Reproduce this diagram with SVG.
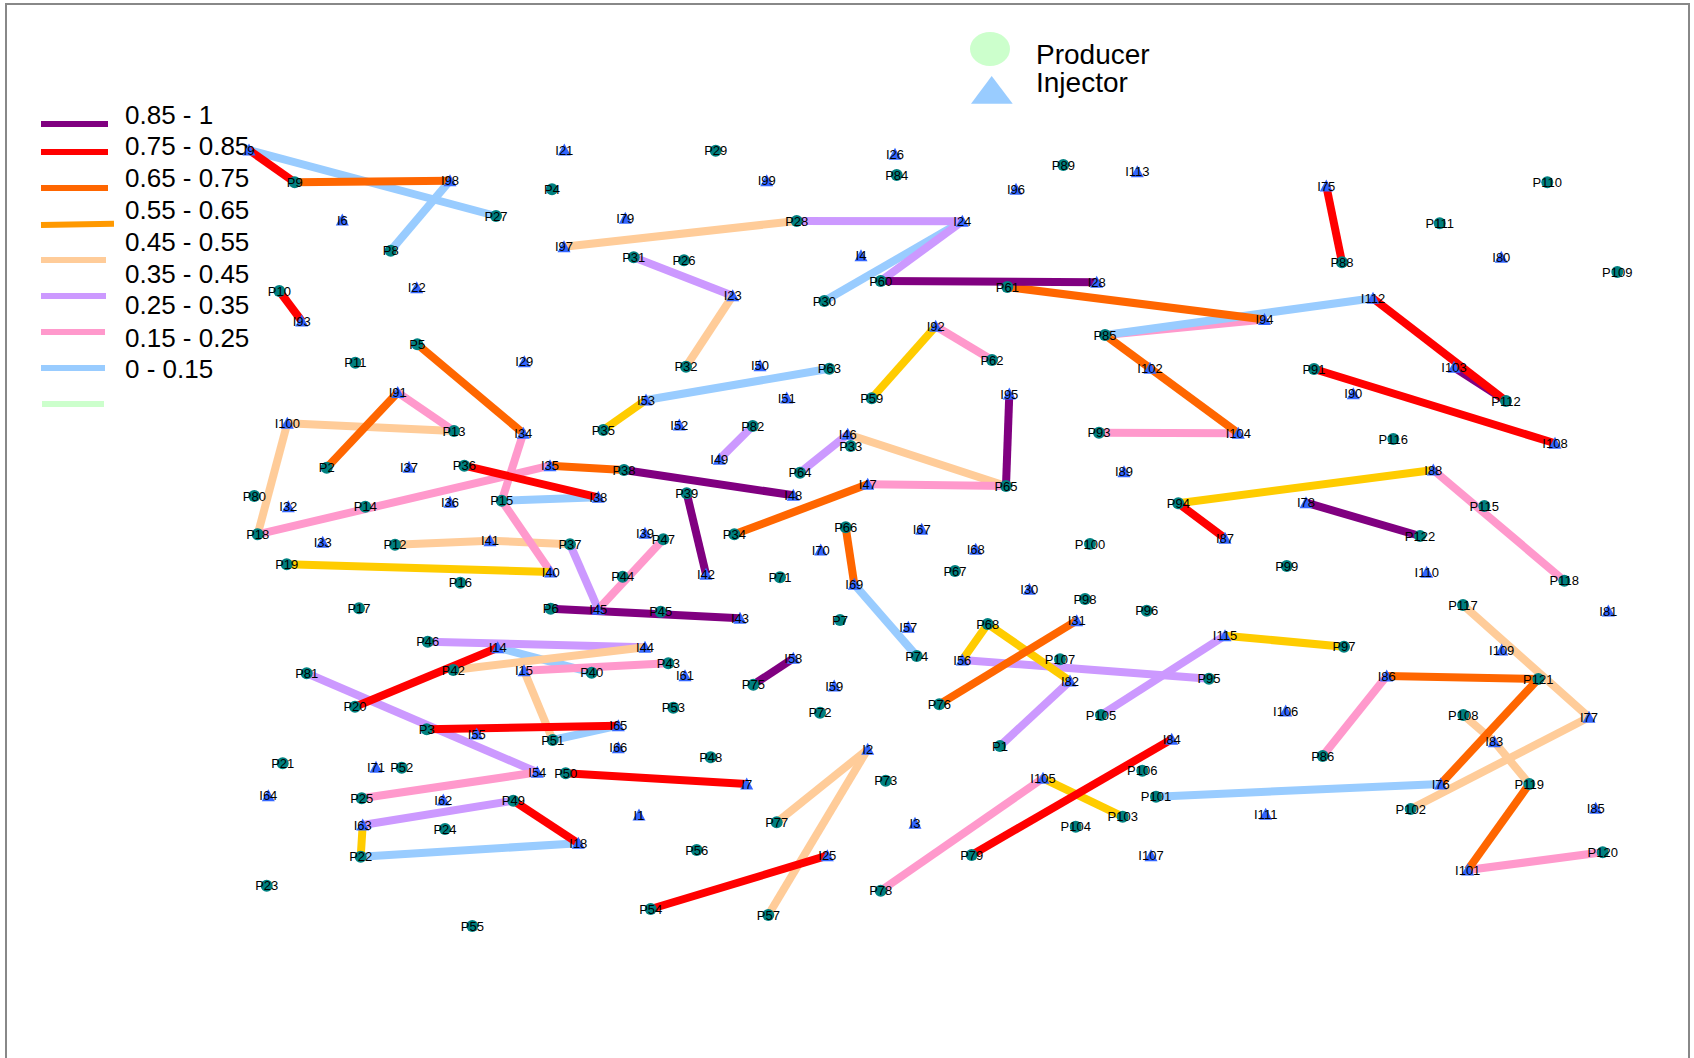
<svg xmlns="http://www.w3.org/2000/svg" xmlns:xlink="http://www.w3.org/1999/xlink" width="1694" height="1058" viewBox="0 0 1694 1058">
<style>
text{font-family:"Liberation Sans",Arial,sans-serif;fill:#000}
.n text{font-size:13px;text-anchor:middle}
.lg{font-size:26px}
.lg2{font-size:28px}
line{stroke-width:8;stroke-linecap:butt}
.leg line{stroke-width:6}
.k1{stroke:#800080}.k2{stroke:#FF0000}.k3{stroke:#FF6600}.k4{stroke:#FFCC00}.k4l{stroke:#FF9900}
.k5{stroke:#FFCC99}.k6{stroke:#CC99FF}.k7{stroke:#FF99CC}.k8{stroke:#99CCFF}.k9{stroke:#CCFFCC}
</style>
<defs>
<circle id="pc" r="6" fill="#008080"/>
<polygon id="it" points="0,-6.5 6.5,5.5 -6.5,5.5" fill="#3366FF"/>
</defs>
<rect x="6" y="4" width="1683" height="1080" fill="#fff" stroke="#888" stroke-width="2"/>
<g id="legend" class="leg">
<line class="k1" x1="41" y1="124" x2="108" y2="124"/>
<line class="k2" x1="41" y1="152" x2="108" y2="152"/>
<line class="k3" x1="41" y1="188" x2="108" y2="188"/>
<line class="k4l" x1="41" y1="225" x2="114" y2="223.7"/>
<line class="k5" x1="41" y1="260" x2="106" y2="260"/>
<line class="k6" x1="41" y1="296" x2="106" y2="296"/>
<line class="k7" x1="41" y1="332" x2="105" y2="332"/>
<line class="k8" x1="41" y1="368" x2="105" y2="368"/>
<line class="k9" x1="42" y1="404" x2="104" y2="404"/>
<text class="lg" x="125" y="124">0.85 - 1</text>
<text class="lg" x="125" y="155">0.75 - 0.85</text>
<text class="lg" x="125" y="187">0.65 - 0.75</text>
<text class="lg" x="125" y="219">0.55 - 0.65</text>
<text class="lg" x="125" y="251">0.45 - 0.55</text>
<text class="lg" x="125" y="283">0.35 - 0.45</text>
<text class="lg" x="125" y="314">0.25 - 0.35</text>
<text class="lg" x="125" y="347">0.15 - 0.25</text>
<text class="lg" x="125" y="378">0 - 0.15</text>
<ellipse cx="990" cy="49" rx="20" ry="17" fill="#CCFFCC"/>
<polygon points="991.7,76 971,103.7 1012.7,103.7" fill="#99CCFF"/>
<text class="lg2" x="1036" y="64">Producer</text>
<text class="lg2" x="1036" y="92">Injector</text>
</g>
<g id="connectors">
<line class="k7" x1="1105" y1="335" x2="1264.5" y2="319.5"/>
<line class="k8" x1="249" y1="150" x2="496" y2="216"/>
<line class="k8" x1="450" y1="180.7" x2="390.7" y2="250.7"/>
<line class="k8" x1="962.3" y1="221.3" x2="824.3" y2="301"/>
<line class="k8" x1="646" y1="400" x2="829.3" y2="368.7"/>
<line class="k8" x1="1105" y1="335" x2="1373" y2="298.3"/>
<line class="k8" x1="501.7" y1="500.7" x2="598.3" y2="497.3"/>
<line class="k8" x1="854.3" y1="584.3" x2="916.7" y2="656"/>
<line class="k8" x1="497.7" y1="647.7" x2="591.7" y2="672.7"/>
<line class="k8" x1="552.7" y1="740" x2="618.3" y2="725.7"/>
<line class="k8" x1="360.7" y1="856.7" x2="578.3" y2="843.3"/>
<line class="k8" x1="1156" y1="796.7" x2="1440.7" y2="784"/>
<line class="k6" x1="796.7" y1="221" x2="962.3" y2="221.3"/>
<line class="k6" x1="962.3" y1="221.3" x2="880.7" y2="281"/>
<line class="k6" x1="633.7" y1="257.3" x2="732.7" y2="295.7"/>
<line class="k6" x1="752.7" y1="426" x2="719.3" y2="459.3"/>
<line class="k6" x1="847.7" y1="434.3" x2="800" y2="472.7"/>
<line class="k6" x1="570" y1="544.3" x2="598.3" y2="609.3"/>
<line class="k6" x1="427.7" y1="641.7" x2="645" y2="647.3"/>
<line class="k6" x1="306.7" y1="673.3" x2="537.3" y2="772.3"/>
<line class="k6" x1="962.3" y1="660" x2="1209" y2="678.7"/>
<line class="k6" x1="1070" y1="681" x2="1000" y2="746"/>
<line class="k6" x1="1225" y1="635.7" x2="1101" y2="715"/>
<line class="k6" x1="362.7" y1="825" x2="513.3" y2="800.7"/>
<line class="k5" x1="564" y1="246.7" x2="796.7" y2="221"/>
<line class="k5" x1="732.7" y1="295.7" x2="686" y2="366.7"/>
<line class="k5" x1="287.3" y1="423.3" x2="454" y2="431"/>
<line class="k5" x1="287.3" y1="423.3" x2="257.7" y2="534.3"/>
<line class="k5" x1="395" y1="544.7" x2="490" y2="540.7"/>
<line class="k5" x1="490" y1="540.7" x2="570" y2="544.3"/>
<line class="k5" x1="847.7" y1="434.3" x2="1006" y2="486"/>
<line class="k5" x1="453.3" y1="670" x2="645" y2="647.3"/>
<line class="k5" x1="524" y1="670.7" x2="552.7" y2="740"/>
<line class="k5" x1="867.7" y1="749.3" x2="776.7" y2="822.3"/>
<line class="k5" x1="867.7" y1="749.3" x2="768.3" y2="915"/>
<line class="k5" x1="1463" y1="605" x2="1589" y2="717.3"/>
<line class="k5" x1="1589" y1="717.3" x2="1410.7" y2="809"/>
<line class="k5" x1="1494.3" y1="741.7" x2="1463.3" y2="715"/>
<line class="k5" x1="1494.3" y1="741.7" x2="1529.3" y2="784"/>
<line class="k7" x1="935.7" y1="326.3" x2="992" y2="360"/>
<line class="k7" x1="397.7" y1="392.5" x2="454" y2="431"/>
<line class="k7" x1="550" y1="465.7" x2="257.7" y2="534.3"/>
<line class="k7" x1="523.3" y1="433.3" x2="501.7" y2="500.7"/>
<line class="k7" x1="501.7" y1="500.7" x2="550.7" y2="572"/>
<line class="k7" x1="598.3" y1="609.3" x2="663.3" y2="539.3"/>
<line class="k7" x1="1099" y1="432.7" x2="1238.3" y2="433.3"/>
<line class="k7" x1="867.7" y1="484.3" x2="1006" y2="486"/>
<line class="k7" x1="1433.3" y1="470" x2="1564.3" y2="580.7"/>
<line class="k7" x1="524" y1="670.7" x2="668.3" y2="663.3"/>
<line class="k7" x1="361.7" y1="798.3" x2="537.3" y2="772.3"/>
<line class="k7" x1="1043" y1="778.3" x2="880.7" y2="890.7"/>
<line class="k7" x1="1386.7" y1="676" x2="1322.7" y2="756"/>
<line class="k7" x1="1467.7" y1="870" x2="1602.7" y2="852.3"/>
<line class="k4" x1="646" y1="400" x2="603.3" y2="430"/>
<line class="k4" x1="935.7" y1="326.3" x2="871.7" y2="398.3"/>
<line class="k4" x1="286.7" y1="564.3" x2="550.7" y2="572"/>
<line class="k4" x1="1178.3" y1="503.3" x2="1433.3" y2="470"/>
<line class="k4" x1="987.7" y1="624" x2="962.3" y2="660"/>
<line class="k4" x1="987.7" y1="624" x2="1070" y2="681"/>
<line class="k4" x1="1225" y1="635.7" x2="1344" y2="646.7"/>
<line class="k4" x1="1043" y1="778.3" x2="1122.7" y2="816.7"/>
<line class="k4" x1="362.7" y1="825" x2="360.7" y2="856.7"/>
<line class="k3" x1="294.7" y1="182.3" x2="450" y2="180.7"/>
<line class="k3" x1="1007.3" y1="287" x2="1264.5" y2="319.5"/>
<line class="k3" x1="1105" y1="335" x2="1238.3" y2="433.3"/>
<line class="k3" x1="417.3" y1="344.3" x2="523.3" y2="433.3"/>
<line class="k3" x1="397.7" y1="392.5" x2="326.7" y2="467.7"/>
<line class="k3" x1="550" y1="465.7" x2="624" y2="470"/>
<line class="k3" x1="734.3" y1="534.3" x2="867.7" y2="484.3"/>
<line class="k3" x1="845.7" y1="527.3" x2="854.3" y2="584.3"/>
<line class="k3" x1="1076.7" y1="620.7" x2="939.3" y2="704.3"/>
<line class="k3" x1="1386.7" y1="676" x2="1538.3" y2="679"/>
<line class="k3" x1="1538.3" y1="679" x2="1440.7" y2="784"/>
<line class="k3" x1="1529.3" y1="784" x2="1467.7" y2="870"/>
<line class="k1" x1="1454" y1="367.3" x2="1506" y2="401"/>
<line class="k2" x1="249" y1="150" x2="294.7" y2="182.3"/>
<line class="k2" x1="279.3" y1="291" x2="301.7" y2="321"/>
<line class="k2" x1="1326.3" y1="186" x2="1342" y2="262.3"/>
<line class="k2" x1="1373" y1="298.3" x2="1506" y2="401"/>
<line class="k2" x1="1314" y1="369" x2="1555" y2="443.3"/>
<line class="k2" x1="464.3" y1="465.7" x2="598.3" y2="497.3"/>
<line class="k2" x1="1178.3" y1="503.3" x2="1225" y2="538.3"/>
<line class="k2" x1="497.7" y1="647.7" x2="355" y2="706.7"/>
<line class="k2" x1="426.7" y1="729.3" x2="618.3" y2="725.7"/>
<line class="k2" x1="565.7" y1="773.3" x2="746.7" y2="784"/>
<line class="k2" x1="513.3" y1="800.7" x2="578.3" y2="843.3"/>
<line class="k2" x1="650.7" y1="909" x2="827.3" y2="855.7"/>
<line class="k2" x1="971.7" y1="855" x2="1171.7" y2="739.3"/>
<line class="k1" x1="880.7" y1="281" x2="1096.7" y2="282.3"/>
<line class="k1" x1="624" y1="470" x2="793.3" y2="495.3"/>
<line class="k1" x1="686.7" y1="493.3" x2="706" y2="574.3"/>
<line class="k1" x1="550.7" y1="608.7" x2="740" y2="618.3"/>
<line class="k1" x1="793.3" y1="658.3" x2="753.3" y2="684.7"/>
<line class="k1" x1="1009.3" y1="394" x2="1006" y2="486"/>
<line class="k1" x1="1306" y1="502.7" x2="1420" y2="536"/>
</g>
<g class="n">
<g id="P1" transform="translate(1000,746)"><use href="#pc"/><text y="4.6">P1</text></g>
<g id="P2" transform="translate(326.7,467.7)"><use href="#pc"/><text y="4.6">P2</text></g>
<g id="P3" transform="translate(426.7,729.3)"><use href="#pc"/><text y="4.6">P3</text></g>
<g id="P4" transform="translate(552,189.3)"><use href="#pc"/><text y="4.6">P4</text></g>
<g id="P5" transform="translate(417.3,344.3)"><use href="#pc"/><text y="4.6">P5</text></g>
<g id="P6" transform="translate(550.7,608.7)"><use href="#pc"/><text y="4.6">P6</text></g>
<g id="P7" transform="translate(840,620)"><use href="#pc"/><text y="4.6">P7</text></g>
<g id="P8" transform="translate(390.7,250.7)"><use href="#pc"/><text y="4.6">P8</text></g>
<g id="P9" transform="translate(294.7,182.3)"><use href="#pc"/><text y="4.6">P9</text></g>
<g id="P10" transform="translate(279.3,291)"><use href="#pc"/><text y="4.6">P10</text></g>
<g id="P11" transform="translate(355.3,362.7)"><use href="#pc"/><text y="4.6">P11</text></g>
<g id="P12" transform="translate(395,544.7)"><use href="#pc"/><text y="4.6">P12</text></g>
<g id="P13" transform="translate(454,431)"><use href="#pc"/><text y="4.6">P13</text></g>
<g id="P14" transform="translate(365.3,506.7)"><use href="#pc"/><text y="4.6">P14</text></g>
<g id="P15" transform="translate(501.7,500.7)"><use href="#pc"/><text y="4.6">P15</text></g>
<g id="P16" transform="translate(460.3,582.7)"><use href="#pc"/><text y="4.6">P16</text></g>
<g id="P17" transform="translate(359,608.3)"><use href="#pc"/><text y="4.6">P17</text></g>
<g id="P18" transform="translate(257.7,534.3)"><use href="#pc"/><text y="4.6">P18</text></g>
<g id="P19" transform="translate(286.7,564.3)"><use href="#pc"/><text y="4.6">P19</text></g>
<g id="P20" transform="translate(355,706.7)"><use href="#pc"/><text y="4.6">P20</text></g>
<g id="P21" transform="translate(282.7,763.3)"><use href="#pc"/><text y="4.6">P21</text></g>
<g id="P22" transform="translate(360.7,856.7)"><use href="#pc"/><text y="4.6">P22</text></g>
<g id="P23" transform="translate(266.7,885.7)"><use href="#pc"/><text y="4.6">P23</text></g>
<g id="P24" transform="translate(445,829)"><use href="#pc"/><text y="4.6">P24</text></g>
<g id="P25" transform="translate(361.7,798.3)"><use href="#pc"/><text y="4.6">P25</text></g>
<g id="P26" transform="translate(684,260.3)"><use href="#pc"/><text y="4.6">P26</text></g>
<g id="P27" transform="translate(496,216)"><use href="#pc"/><text y="4.6">P27</text></g>
<g id="P28" transform="translate(796.7,221)"><use href="#pc"/><text y="4.6">P28</text></g>
<g id="P29" transform="translate(715.7,150.7)"><use href="#pc"/><text y="4.6">P29</text></g>
<g id="P30" transform="translate(824.3,301)"><use href="#pc"/><text y="4.6">P30</text></g>
<g id="P31" transform="translate(633.7,257.3)"><use href="#pc"/><text y="4.6">P31</text></g>
<g id="P32" transform="translate(686,366.7)"><use href="#pc"/><text y="4.6">P32</text></g>
<g id="P33" transform="translate(850.7,446)"><use href="#pc"/><text y="4.6">P33</text></g>
<g id="P34" transform="translate(734.3,534.3)"><use href="#pc"/><text y="4.6">P34</text></g>
<g id="P35" transform="translate(603.3,430)"><use href="#pc"/><text y="4.6">P35</text></g>
<g id="P36" transform="translate(464.3,465.7)"><use href="#pc"/><text y="4.6">P36</text></g>
<g id="P37" transform="translate(570,544.3)"><use href="#pc"/><text y="4.6">P37</text></g>
<g id="P38" transform="translate(624,470)"><use href="#pc"/><text y="4.6">P38</text></g>
<g id="P39" transform="translate(686.7,493.3)"><use href="#pc"/><text y="4.6">P39</text></g>
<g id="P40" transform="translate(591.7,672.7)"><use href="#pc"/><text y="4.6">P40</text></g>
<g id="P42" transform="translate(453.3,670)"><use href="#pc"/><text y="4.6">P42</text></g>
<g id="P43" transform="translate(668.3,663.3)"><use href="#pc"/><text y="4.6">P43</text></g>
<g id="P44" transform="translate(622.7,576.7)"><use href="#pc"/><text y="4.6">P44</text></g>
<g id="P45" transform="translate(660.7,611.7)"><use href="#pc"/><text y="4.6">P45</text></g>
<g id="P46" transform="translate(427.7,641.7)"><use href="#pc"/><text y="4.6">P46</text></g>
<g id="P47" transform="translate(663.3,539.3)"><use href="#pc"/><text y="4.6">P47</text></g>
<g id="P48" transform="translate(710.7,757.3)"><use href="#pc"/><text y="4.6">P48</text></g>
<g id="P49" transform="translate(513.3,800.7)"><use href="#pc"/><text y="4.6">P49</text></g>
<g id="P50" transform="translate(565.7,773.3)"><use href="#pc"/><text y="4.6">P50</text></g>
<g id="P51" transform="translate(552.7,740)"><use href="#pc"/><text y="4.6">P51</text></g>
<g id="P52" transform="translate(401.7,767.7)"><use href="#pc"/><text y="4.6">P52</text></g>
<g id="P53" transform="translate(673.3,707.7)"><use href="#pc"/><text y="4.6">P53</text></g>
<g id="P54" transform="translate(650.7,909)"><use href="#pc"/><text y="4.6">P54</text></g>
<g id="P55" transform="translate(472.3,926)"><use href="#pc"/><text y="4.6">P55</text></g>
<g id="P56" transform="translate(696.7,850)"><use href="#pc"/><text y="4.6">P56</text></g>
<g id="P57" transform="translate(768.3,915)"><use href="#pc"/><text y="4.6">P57</text></g>
<g id="P59" transform="translate(871.7,398.3)"><use href="#pc"/><text y="4.6">P59</text></g>
<g id="P60" transform="translate(880.7,281)"><use href="#pc"/><text y="4.6">P60</text></g>
<g id="P61" transform="translate(1007.3,287)"><use href="#pc"/><text y="4.6">P61</text></g>
<g id="P62" transform="translate(992,360)"><use href="#pc"/><text y="4.6">P62</text></g>
<g id="P63" transform="translate(829.3,368.7)"><use href="#pc"/><text y="4.6">P63</text></g>
<g id="P64" transform="translate(800,472.7)"><use href="#pc"/><text y="4.6">P64</text></g>
<g id="P65" transform="translate(1006,486)"><use href="#pc"/><text y="4.6">P65</text></g>
<g id="P66" transform="translate(845.7,527.3)"><use href="#pc"/><text y="4.6">P66</text></g>
<g id="P67" transform="translate(955,571)"><use href="#pc"/><text y="4.6">P67</text></g>
<g id="P68" transform="translate(987.7,624)"><use href="#pc"/><text y="4.6">P68</text></g>
<g id="P71" transform="translate(780,577.3)"><use href="#pc"/><text y="4.6">P71</text></g>
<g id="P72" transform="translate(820,712.7)"><use href="#pc"/><text y="4.6">P72</text></g>
<g id="P73" transform="translate(885.7,780.7)"><use href="#pc"/><text y="4.6">P73</text></g>
<g id="P74" transform="translate(916.7,656)"><use href="#pc"/><text y="4.6">P74</text></g>
<g id="P75" transform="translate(753.3,684.7)"><use href="#pc"/><text y="4.6">P75</text></g>
<g id="P76" transform="translate(939.3,704.3)"><use href="#pc"/><text y="4.6">P76</text></g>
<g id="P77" transform="translate(776.7,822.3)"><use href="#pc"/><text y="4.6">P77</text></g>
<g id="P78" transform="translate(880.7,890.7)"><use href="#pc"/><text y="4.6">P78</text></g>
<g id="P79" transform="translate(971.7,855)"><use href="#pc"/><text y="4.6">P79</text></g>
<g id="P80" transform="translate(254.3,496)"><use href="#pc"/><text y="4.6">P80</text></g>
<g id="P81" transform="translate(306.7,673.3)"><use href="#pc"/><text y="4.6">P81</text></g>
<g id="P82" transform="translate(752.7,426)"><use href="#pc"/><text y="4.6">P82</text></g>
<g id="P84" transform="translate(896.7,175)"><use href="#pc"/><text y="4.6">P84</text></g>
<g id="P85" transform="translate(1105,335)"><use href="#pc"/><text y="4.6">P85</text></g>
<g id="P86" transform="translate(1322.7,756)"><use href="#pc"/><text y="4.6">P86</text></g>
<g id="P88" transform="translate(1342,262.3)"><use href="#pc"/><text y="4.6">P88</text></g>
<g id="P89" transform="translate(1063.3,165)"><use href="#pc"/><text y="4.6">P89</text></g>
<g id="P91" transform="translate(1314,369)"><use href="#pc"/><text y="4.6">P91</text></g>
<g id="P93" transform="translate(1099,432.7)"><use href="#pc"/><text y="4.6">P93</text></g>
<g id="P94" transform="translate(1178.3,503.3)"><use href="#pc"/><text y="4.6">P94</text></g>
<g id="P95" transform="translate(1209,678.7)"><use href="#pc"/><text y="4.6">P95</text></g>
<g id="P96" transform="translate(1146.7,610.7)"><use href="#pc"/><text y="4.6">P96</text></g>
<g id="P97" transform="translate(1344,646.7)"><use href="#pc"/><text y="4.6">P97</text></g>
<g id="P98" transform="translate(1085,599)"><use href="#pc"/><text y="4.6">P98</text></g>
<g id="P99" transform="translate(1286.7,566)"><use href="#pc"/><text y="4.6">P99</text></g>
<g id="P100" transform="translate(1090,544)"><use href="#pc"/><text y="4.6">P100</text></g>
<g id="P101" transform="translate(1156,796.7)"><use href="#pc"/><text y="4.6">P101</text></g>
<g id="P102" transform="translate(1410.7,809)"><use href="#pc"/><text y="4.6">P102</text></g>
<g id="P103" transform="translate(1122.7,816.7)"><use href="#pc"/><text y="4.6">P103</text></g>
<g id="P104" transform="translate(1075.7,826.7)"><use href="#pc"/><text y="4.6">P104</text></g>
<g id="P105" transform="translate(1101,715)"><use href="#pc"/><text y="4.6">P105</text></g>
<g id="P106" transform="translate(1142.3,770.7)"><use href="#pc"/><text y="4.6">P106</text></g>
<g id="P107" transform="translate(1060,659.3)"><use href="#pc"/><text y="4.6">P107</text></g>
<g id="P108" transform="translate(1463.3,715)"><use href="#pc"/><text y="4.6">P108</text></g>
<g id="P109" transform="translate(1617.3,272)"><use href="#pc"/><text y="4.6">P109</text></g>
<g id="P110" transform="translate(1547.3,182.3)"><use href="#pc"/><text y="4.6">P110</text></g>
<g id="P111" transform="translate(1439.7,223.3)"><use href="#pc"/><text y="4.6">P111</text></g>
<g id="P112" transform="translate(1506,401)"><use href="#pc"/><text y="4.6">P112</text></g>
<g id="P115" transform="translate(1484.3,506)"><use href="#pc"/><text y="4.6">P115</text></g>
<g id="P116" transform="translate(1393.3,439)"><use href="#pc"/><text y="4.6">P116</text></g>
<g id="P117" transform="translate(1463,605)"><use href="#pc"/><text y="4.6">P117</text></g>
<g id="P118" transform="translate(1564.3,580.7)"><use href="#pc"/><text y="4.6">P118</text></g>
<g id="P119" transform="translate(1529.3,784)"><use href="#pc"/><text y="4.6">P119</text></g>
<g id="P120" transform="translate(1602.7,852.3)"><use href="#pc"/><text y="4.6">P120</text></g>
<g id="P121" transform="translate(1538.3,679)"><use href="#pc"/><text y="4.6">P121</text></g>
<g id="P122" transform="translate(1420,536)"><use href="#pc"/><text y="4.6">P122</text></g>
<g id="I1" transform="translate(639,815)"><use href="#it"/><text y="4.6">I1</text></g>
<g id="I2" transform="translate(867.7,749.3)"><use href="#it"/><text y="4.6">I2</text></g>
<g id="I3" transform="translate(915,823.3)"><use href="#it"/><text y="4.6">I3</text></g>
<g id="I4" transform="translate(861,255.7)"><use href="#it"/><text y="4.6">I4</text></g>
<g id="I6" transform="translate(342.3,220)"><use href="#it"/><text y="4.6">I6</text></g>
<g id="I7" transform="translate(746.7,784)"><use href="#it"/><text y="4.6">I7</text></g>
<g id="I9" transform="translate(249,150)"><use href="#it"/><text y="4.6">I9</text></g>
<g id="I14" transform="translate(497.7,647.7)"><use href="#it"/><text y="4.6">I14</text></g>
<g id="I15" transform="translate(524,670.7)"><use href="#it"/><text y="4.6">I15</text></g>
<g id="I18" transform="translate(578.3,843.3)"><use href="#it"/><text y="4.6">I18</text></g>
<g id="I21" transform="translate(564.3,150)"><use href="#it"/><text y="4.6">I21</text></g>
<g id="I22" transform="translate(416.7,287.7)"><use href="#it"/><text y="4.6">I22</text></g>
<g id="I23" transform="translate(732.7,295.7)"><use href="#it"/><text y="4.6">I23</text></g>
<g id="I24" transform="translate(962.3,221.3)"><use href="#it"/><text y="4.6">I24</text></g>
<g id="I25" transform="translate(827.3,855.7)"><use href="#it"/><text y="4.6">I25</text></g>
<g id="I26" transform="translate(895,154.3)"><use href="#it"/><text y="4.6">I26</text></g>
<g id="I28" transform="translate(1096.7,282.3)"><use href="#it"/><text y="4.6">I28</text></g>
<g id="I29" transform="translate(524.3,361.7)"><use href="#it"/><text y="4.6">I29</text></g>
<g id="I30" transform="translate(1029.3,589.3)"><use href="#it"/><text y="4.6">I30</text></g>
<g id="I31" transform="translate(1076.7,620.7)"><use href="#it"/><text y="4.6">I31</text></g>
<g id="I32" transform="translate(288.3,506.7)"><use href="#it"/><text y="4.6">I32</text></g>
<g id="I33" transform="translate(322.7,542.3)"><use href="#it"/><text y="4.6">I33</text></g>
<g id="I34" transform="translate(523.3,433.3)"><use href="#it"/><text y="4.6">I34</text></g>
<g id="I35" transform="translate(550,465.7)"><use href="#it"/><text y="4.6">I35</text></g>
<g id="I36" transform="translate(450,502.3)"><use href="#it"/><text y="4.6">I36</text></g>
<g id="I37" transform="translate(409,467.3)"><use href="#it"/><text y="4.6">I37</text></g>
<g id="I38" transform="translate(598.3,497.3)"><use href="#it"/><text y="4.6">I38</text></g>
<g id="I39" transform="translate(645,533.3)"><use href="#it"/><text y="4.6">I39</text></g>
<g id="I40" transform="translate(550.7,572)"><use href="#it"/><text y="4.6">I40</text></g>
<g id="I41" transform="translate(490,540.7)"><use href="#it"/><text y="4.6">I41</text></g>
<g id="I42" transform="translate(706,574.3)"><use href="#it"/><text y="4.6">I42</text></g>
<g id="I43" transform="translate(740,618.3)"><use href="#it"/><text y="4.6">I43</text></g>
<g id="I44" transform="translate(645,647.3)"><use href="#it"/><text y="4.6">I44</text></g>
<g id="I45" transform="translate(598.3,609.3)"><use href="#it"/><text y="4.6">I45</text></g>
<g id="I46" transform="translate(847.7,434.3)"><use href="#it"/><text y="4.6">I46</text></g>
<g id="I47" transform="translate(867.7,484.3)"><use href="#it"/><text y="4.6">I47</text></g>
<g id="I48" transform="translate(793.3,495.3)"><use href="#it"/><text y="4.6">I48</text></g>
<g id="I49" transform="translate(719.3,459.3)"><use href="#it"/><text y="4.6">I49</text></g>
<g id="I50" transform="translate(760,365.7)"><use href="#it"/><text y="4.6">I50</text></g>
<g id="I51" transform="translate(786.7,398)"><use href="#it"/><text y="4.6">I51</text></g>
<g id="I52" transform="translate(679.3,425)"><use href="#it"/><text y="4.6">I52</text></g>
<g id="I53" transform="translate(646,400)"><use href="#it"/><text y="4.6">I53</text></g>
<g id="I54" transform="translate(537.3,772.3)"><use href="#it"/><text y="4.6">I54</text></g>
<g id="I55" transform="translate(476.7,734)"><use href="#it"/><text y="4.6">I55</text></g>
<g id="I56" transform="translate(962.3,660)"><use href="#it"/><text y="4.6">I56</text></g>
<g id="I57" transform="translate(908.3,627.3)"><use href="#it"/><text y="4.6">I57</text></g>
<g id="I58" transform="translate(793.3,658.3)"><use href="#it"/><text y="4.6">I58</text></g>
<g id="I59" transform="translate(834.2,686)"><use href="#it"/><text y="4.6">I59</text></g>
<g id="I61" transform="translate(685,675.7)"><use href="#it"/><text y="4.6">I61</text></g>
<g id="I62" transform="translate(443.3,800)"><use href="#it"/><text y="4.6">I62</text></g>
<g id="I63" transform="translate(362.7,825)"><use href="#it"/><text y="4.6">I63</text></g>
<g id="I64" transform="translate(268.3,795.7)"><use href="#it"/><text y="4.6">I64</text></g>
<g id="I65" transform="translate(618.3,725.7)"><use href="#it"/><text y="4.6">I65</text></g>
<g id="I66" transform="translate(618.3,747.7)"><use href="#it"/><text y="4.6">I66</text></g>
<g id="I67" transform="translate(921.7,529.3)"><use href="#it"/><text y="4.6">I67</text></g>
<g id="I68" transform="translate(975.7,549.3)"><use href="#it"/><text y="4.6">I68</text></g>
<g id="I69" transform="translate(854.3,584.3)"><use href="#it"/><text y="4.6">I69</text></g>
<g id="I70" transform="translate(820.7,550)"><use href="#it"/><text y="4.6">I70</text></g>
<g id="I71" transform="translate(376,767.3)"><use href="#it"/><text y="4.6">I71</text></g>
<g id="I75" transform="translate(1326.3,186)"><use href="#it"/><text y="4.6">I75</text></g>
<g id="I76" transform="translate(1440.7,784)"><use href="#it"/><text y="4.6">I76</text></g>
<g id="I77" transform="translate(1589,717.3)"><use href="#it"/><text y="4.6">I77</text></g>
<g id="I78" transform="translate(1306,502.7)"><use href="#it"/><text y="4.6">I78</text></g>
<g id="I79" transform="translate(625.3,218.3)"><use href="#it"/><text y="4.6">I79</text></g>
<g id="I80" transform="translate(1501.3,257.3)"><use href="#it"/><text y="4.6">I80</text></g>
<g id="I81" transform="translate(1608.3,611)"><use href="#it"/><text y="4.6">I81</text></g>
<g id="I82" transform="translate(1070,681)"><use href="#it"/><text y="4.6">I82</text></g>
<g id="I83" transform="translate(1494.3,741.7)"><use href="#it"/><text y="4.6">I83</text></g>
<g id="I84" transform="translate(1171.7,739.3)"><use href="#it"/><text y="4.6">I84</text></g>
<g id="I85" transform="translate(1595.7,808.3)"><use href="#it"/><text y="4.6">I85</text></g>
<g id="I86" transform="translate(1386.7,676)"><use href="#it"/><text y="4.6">I86</text></g>
<g id="I87" transform="translate(1225,538.3)"><use href="#it"/><text y="4.6">I87</text></g>
<g id="I88" transform="translate(1433.3,470)"><use href="#it"/><text y="4.6">I88</text></g>
<g id="I89" transform="translate(1124,471.7)"><use href="#it"/><text y="4.6">I89</text></g>
<g id="I90" transform="translate(1353.3,393.7)"><use href="#it"/><text y="4.6">I90</text></g>
<g id="I91" transform="translate(397.7,392.5)"><use href="#it"/><text y="4.6">I91</text></g>
<g id="I92" transform="translate(935.7,326.3)"><use href="#it"/><text y="4.6">I92</text></g>
<g id="I93" transform="translate(301.7,321)"><use href="#it"/><text y="4.6">I93</text></g>
<g id="I94" transform="translate(1264.5,319.5)"><use href="#it"/><text y="4.6">I94</text></g>
<g id="I95" transform="translate(1009.3,394)"><use href="#it"/><text y="4.6">I95</text></g>
<g id="I96" transform="translate(1016,189.3)"><use href="#it"/><text y="4.6">I96</text></g>
<g id="I97" transform="translate(564,246.7)"><use href="#it"/><text y="4.6">I97</text></g>
<g id="I98" transform="translate(450,180.7)"><use href="#it"/><text y="4.6">I98</text></g>
<g id="I99" transform="translate(766.7,180.7)"><use href="#it"/><text y="4.6">I99</text></g>
<g id="I100" transform="translate(287.3,423.3)"><use href="#it"/><text y="4.6">I100</text></g>
<g id="I101" transform="translate(1467.7,870)"><use href="#it"/><text y="4.6">I101</text></g>
<g id="I102" transform="translate(1150,368.3)"><use href="#it"/><text y="4.6">I102</text></g>
<g id="I103" transform="translate(1454,367.3)"><use href="#it"/><text y="4.6">I103</text></g>
<g id="I104" transform="translate(1238.3,433.3)"><use href="#it"/><text y="4.6">I104</text></g>
<g id="I105" transform="translate(1043,778.3)"><use href="#it"/><text y="4.6">I105</text></g>
<g id="I106" transform="translate(1285.7,711)"><use href="#it"/><text y="4.6">I106</text></g>
<g id="I107" transform="translate(1151,855.7)"><use href="#it"/><text y="4.6">I107</text></g>
<g id="I108" transform="translate(1555,443.3)"><use href="#it"/><text y="4.6">I108</text></g>
<g id="I109" transform="translate(1501.7,650)"><use href="#it"/><text y="4.6">I109</text></g>
<g id="I110" transform="translate(1426.7,572.3)"><use href="#it"/><text y="4.6">I110</text></g>
<g id="I111" transform="translate(1265.7,814.3)"><use href="#it"/><text y="4.6">I111</text></g>
<g id="I112" transform="translate(1373,298.3)"><use href="#it"/><text y="4.6">I112</text></g>
<g id="I113" transform="translate(1137.3,171.7)"><use href="#it"/><text y="4.6">I113</text></g>
<g id="I115" transform="translate(1225,635.7)"><use href="#it"/><text y="4.6">I115</text></g>
</g>
</svg>
